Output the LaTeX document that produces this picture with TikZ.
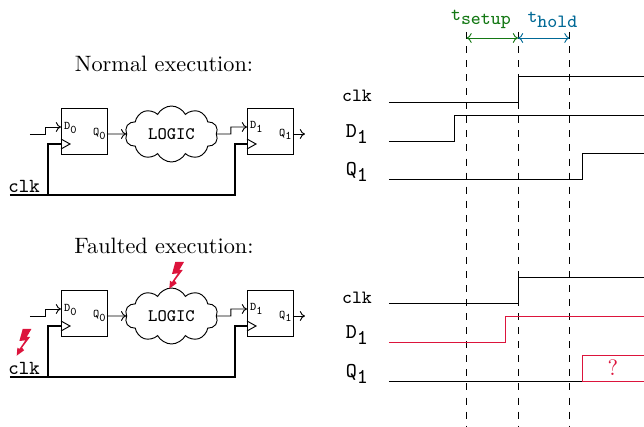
\documentclass[tikz,border=0pt]{standalone}
\usetikzlibrary{shapes.symbols, arrows.meta}
\definecolor{faultred}{RGB}{220,20,60}
\definecolor{setupgreen}{RGB}{20,120,20}
\definecolor{holdblue}{RGB}{0,105,150}
\begin{document}
\begin{tikzpicture}[
    x=0.015cm, y=-0.015cm,
    >={Computer Modern Rightarrow[length=2.2pt, width=4.2pt]},
    myff/.style={draw, minimum width=0.69cm, minimum height=0.69cm, inner sep=0pt},
    mycloud/.style={draw, cloud, cloud puffs=10, cloud puff arc=125, aspect=1.7, minimum width=1.395cm, minimum height=0.84cm, inner sep=0pt, font=\fontsize{7.5}{9}\selectfont\ttfamily},
    mypin/.style={font=\tiny\ttfamily, inner sep=0pt},
    myname/.style={font=\small\ttfamily, inner sep=0pt},
    mytime/.style={font=\footnotesize\ttfamily, inner sep=0pt},
    mytitle/.style={font=\fontsize{9.5}{11}\selectfont, inner sep=0pt},
    myclk/.style={thick},
    mywave/.style={line width=0.4pt},
    mybolt/.pic={
        \fill[faultred] (0,0) -- (7.4,-5.4) -- (5.4,-8) -- (13.4,-18.7) -- (10,-18.7) -- (14.7,-26.7)
            -- (6,-26.7) -- (2.7,-14.7) -- (8.7,-15.4) -- (2.7,-6.7) -- (0.7,-8) -- cycle;
    }
]
    \useasboundingbox (0,0) rectangle (644,427);

    % Circuits, normal and faulted
    \node[mytitle] (titlen) at (164,64) {Normal execution:};
    \node[mytitle] (titlef) at (164,246) {Faulted execution:};
    \foreach \row/\dy in {n/0, f/182} {
        \node[myff] (ffa\row) at (84,131+\dy) {};
        \node[myff] (ffb\row) at (270,131+\dy) {};
        \node[mycloud] (logic\row) at (171.5,134+\dy) {LOGIC};
        \node[mypin] (da\row) at (71,128+\dy) {D$_{\texttt{0}}$};
        \node[mypin] (qa\row) at (100,134+\dy) {Q$_{\texttt{0}}$};
        \node[mypin] (db\row) at (257,127+\dy) {D$_{\texttt{1}}$};
        \node[mypin] (qb\row) at (286,134+\dy) {Q$_{\texttt{1}}$};
        \node[font=\fontsize{8.5}{10}\selectfont\ttfamily, inner sep=0pt, anchor=base west] (clk\row) at (8,192.5+\dy) {clk};

        \coordinate (in\row) at (30,134+\dy);
        \coordinate (ina\row) at (61,127+\dy);
        \coordinate (inb\row) at (247,127+\dy);
        \coordinate (out\row) at (305,134+\dy);
        \coordinate (rail\row) at (10,195+\dy);
        \coordinate (cka\row) at (61,144+\dy);
        \coordinate (ckb\row) at (247,144+\dy);

        % Data path
        \draw[->] (in\row) -- ++(15,0) -- ++(0,-7) -- (ina\row);
        \draw[->] (84+23,134+\dy) -- (logic\row.west);
        \draw[->] (logic\row.east) -- ++(14,0) -- ++(0,-7) -- (inb\row);
        \draw[->] (270+23,134+\dy) -- (out\row);

        % Clock path
        \draw[myclk] (rail\row) -- ++(225,0) |- (ckb\row);
        \draw[myclk] (48,195+\dy) |- (cka\row);
        \draw (61,139+\dy) -- (70,144+\dy) -- (61,149+\dy);
        \draw (247,139+\dy) -- (256,144+\dy) -- (247,149+\dy);
    }

    % Faults
    \pic at (169.3,288.7) {mybolt};
    \pic at (16.7,355.7) {mybolt};

    % Timing marks
    \coordinate (ts) at (466.5,38);
    \coordinate (tc) at (518,38);
    \coordinate (th) at (569.5,38);
    \foreach \t in {ts,tc,th} {
        \draw[dashed] (\t) ++(0,-6) -- ++(0,395);
    }
    \draw[<->, setupgreen] (ts) -- (tc);
    \draw[<->, holdblue] (tc) -- (th);
    \node[setupgreen, mytime, anchor=base] (tsetup) at (481.5,21) {t$_{\texttt{setup}}$};
    \node[holdblue, mytime, anchor=base] (thold) at (553,23) {t$_{\texttt{hold}}$};

    % Normal waveforms
    \node[mytime] (clkw) at (357,96) {clk};
    \node[myname] (dw) at (357.5,134) {D$_{\texttt{1}}$};
    \node[myname] (qw) at (357.5,172) {Q$_{\texttt{1}}$};
    \draw[mywave] (389,102) -| (518,76) -- (644,76);
    \draw[mywave] (389,141) -| (454,115) -- (644,115);
    \draw[mywave] (389,179) -| (582,153) -- (644,153);

    % Faulted waveforms
    \node[mytime] (clkv) at (357,298) {clk};
    \node[myname] (dv) at (357.5,335) {D$_{\texttt{1}}$};
    \node[myname] (qv) at (357.5,374) {Q$_{\texttt{1}}$};
    \draw[mywave] (389,303) -| (518,277) -- (644,277);
    \draw[mywave, faultred] (389,342) -| (505,316) -- (644,316);
    \draw[mywave] (389,381) -- (582,381);
    \draw[mywave, faultred] (644,355) -- (582,355) -- (582,381) -- (644,381);
    \node[faultred, mytitle] (unknown) at (613,368) {?};
\end{tikzpicture}
\end{document}
